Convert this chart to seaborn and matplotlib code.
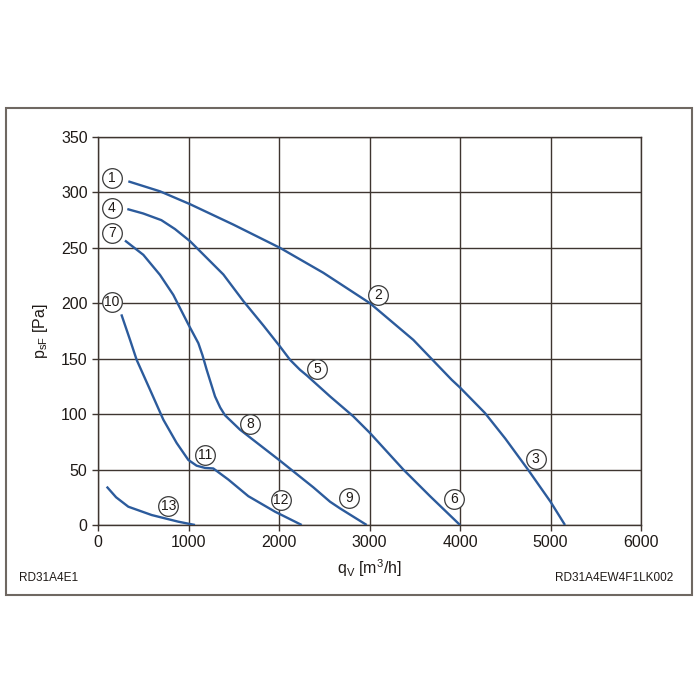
import matplotlib
matplotlib.use("Agg")
import matplotlib.pyplot as plt
import seaborn as sns
import pandas as pd
from matplotlib.patches import Rectangle

# ---- data ----
curve_a_x = [335, 685, 1017, 1495, 2011, 2490, 3006, 3484, 3908, 4000, 4276, 4500, 4751, 5000, 5160]
curve_a_y = [310, 301, 289.4, 271, 250, 227.5, 200, 167, 131, 124, 101, 78, 50, 21, 0]

curve_b_x = [324, 500, 700, 850, 1017, 1201, 1385, 1606, 1827, 2011, 2122, 2232, 2306, 2564, 2821, 3005, 3374, 3669, 4000]
curve_b_y = [285, 281, 275, 267, 256, 241, 226, 202, 180, 161, 149, 140, 135, 116, 98, 83, 50, 26, 0]

curve_c_x = [298, 501, 685, 832, 998, 1109, 1155, 1201, 1293, 1350, 1403, 1569, 1790, 2011, 2379, 2564, 2674, 2969]
curve_c_y = [256.6, 243.7, 225.6, 207.6, 181, 164, 153, 140, 116, 106, 99, 86, 72, 58, 34, 21, 15, 0]

curve_d_x = [258, 354, 427, 575, 722, 869, 998, 1090, 1182, 1274, 1440, 1661, 1956, 2251]
curve_d_y = [190, 167, 149, 122, 95, 74, 58.7, 53.5, 51.5, 51, 41, 26, 12, 0]

curve_e_x = [96, 200, 335, 593, 887, 1072]
curve_e_y = [34.6, 25, 16.5, 9, 3, 0]

label_text = ["1", "4", "7", "10", "2", "3", "5", "6", "8", "9", "11", "12", "13"]
label_x = [151, 151, 151, 151, 3097, 4836, 2424, 3937, 1680, 2773, 1182, 2022, 777]
label_y = [313, 286, 263, 201.5, 207.6, 59.6, 141, 23.5, 91, 24, 63, 22.6, 17]

x_ticks = [0, 1000, 2000, 3000, 4000, 5000, 6000]
y_ticks = [0, 50, 100, 150, 200, 250, 300, 350]

# ---- style ----
sns.set_theme(style="white")
plt.rcParams["font.family"] = ["Liberation Sans", "DejaVu Sans"]
plt.rcParams["mathtext.default"] = "regular"

LINE = "#2c5b9c"
GRID = "#3e3530"
TXT = "#1f1a17"

fig = plt.figure(figsize=(7, 7), dpi=100)
ax = fig.add_axes([98 / 700, 1 - 525 / 700, (641 - 98) / 700, (525 - 137) / 700])

curves = [
    ("A", curve_a_x, curve_a_y),
    ("B", curve_b_x, curve_b_y),
    ("C", curve_c_x, curve_c_y),
    ("D", curve_d_x, curve_d_y),
    ("E", curve_e_x, curve_e_y),
]
frames = []
for name, xs, ys in curves:
    frames.append(pd.DataFrame({"curve": name, "qv": xs, "psf": ys}))
df = pd.concat(frames, ignore_index=True)

sns.lineplot(data=df, x="qv", y="psf", units="curve", estimator=None, sort=False,
             color=LINE, linewidth=1.7, ax=ax, legend=False, zorder=3)
for ln in ax.get_lines():
    ln.set_solid_joinstyle("round")
    ln.set_solid_capstyle("butt")

# circled labels
ax.scatter(label_x, label_y, s=200, facecolor="white", edgecolor="#3a3a3a",
           linewidth=0.9, zorder=4, clip_on=False)
for t, x, y in zip(label_text, label_x, label_y):
    ax.text(x, y, t, ha="center", va="center", fontsize=10, color=TXT, zorder=5)

ax.set_xlim(0, 6000)
ax.set_ylim(0, 350)
ax.set_xticks(x_ticks)
ax.set_yticks(y_ticks)
ax.grid(True, color=GRID, linewidth=1.0)
ax.set_axisbelow(True)
for s in ax.spines.values():
    s.set_color(GRID)
    s.set_linewidth(1.0)
ax.tick_params(axis="both", direction="out", length=4.5, width=1.0, color=GRID,
               labelsize=11.5, labelcolor=TXT, pad=3, bottom=True, left=True)

ax.set_xlabel("q$_V$ [m$^3$/h]", fontsize=11.5, color=TXT, labelpad=5)
ax.set_ylabel("p$_{sF}$ [Pa]", fontsize=11.5, color=TXT, labelpad=8)

fig.text(19 / 700, 1 - 578 / 700, "RD31A4E1", ha="left", va="center", fontsize=8.5, color=TXT)
fig.text(673 / 700, 1 - 578 / 700, "RD31A4EW4F1LK002", ha="right", va="center", fontsize=8.5, color=TXT)

fig.patches.append(Rectangle((6 / 700, 1 - 595 / 700), 686 / 700, 487 / 700,
                             transform=fig.transFigure, fill=False,
                             edgecolor="#6f6862", linewidth=1.5))

fig.savefig("out.png", dpi=100)
